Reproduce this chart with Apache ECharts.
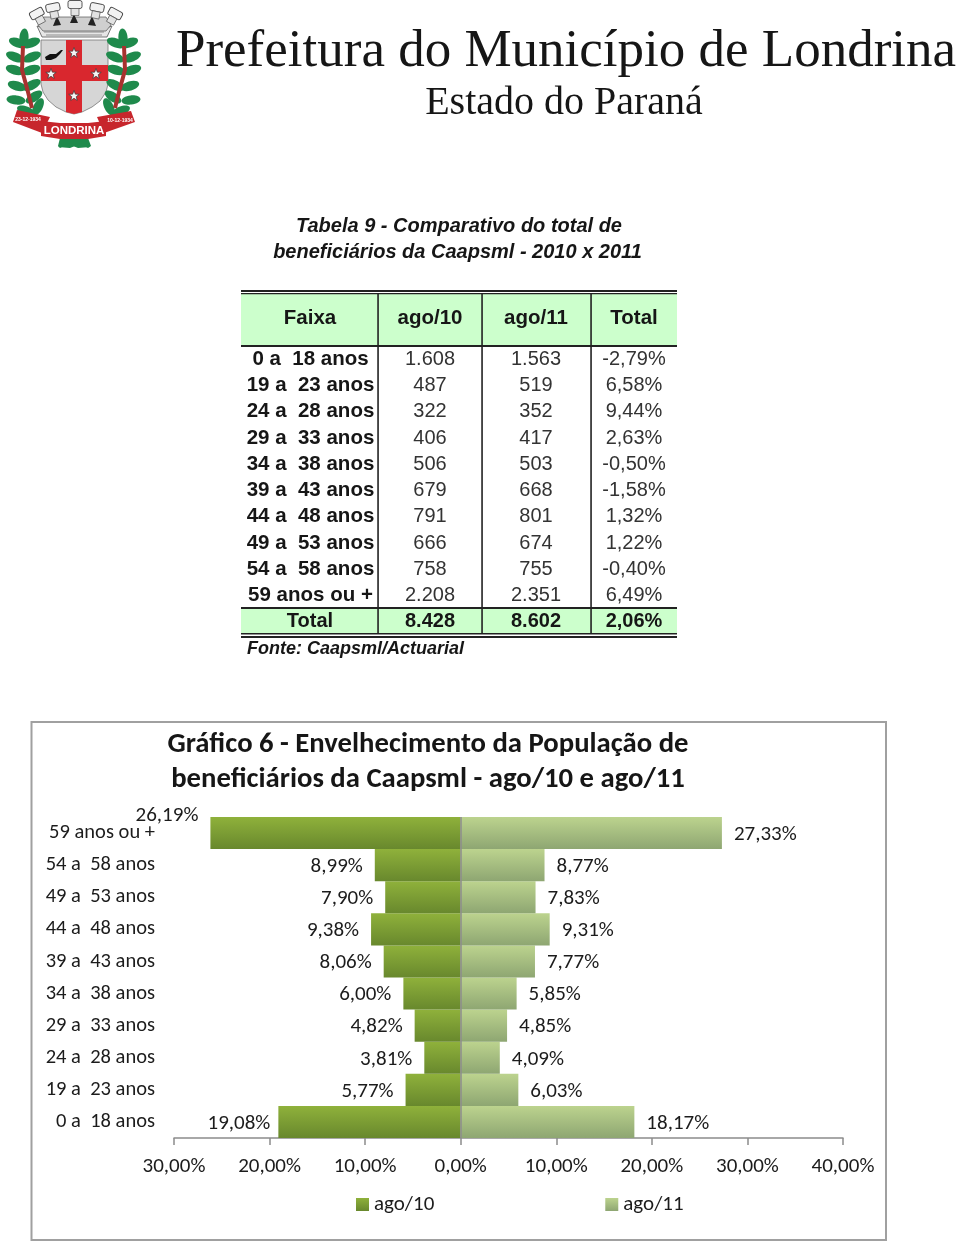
<!DOCTYPE html>
<html><head><meta charset="utf-8">
<style>html,body{margin:0;padding:0;background:#fff}#c{width:960px;height:1244px}</style>
<script src="https://cdn.jsdelivr.net/npm/echarts@6/dist/echarts.min.js"></script>
</head><body><div id="c"></div>
<script>
const categories = ['0 a  18 anos','19 a  23 anos','24 a  28 anos','29 a  33 anos','34 a  38 anos','39 a  43 anos','44 a  48 anos','49 a  53 anos','54 a  58 anos','59 anos ou +'];
const pct2010 = [19.08,5.77,3.81,4.82,6.00,8.06,9.38,7.90,8.99,26.19];
const pct2011 = [18.17,6.03,4.09,4.85,5.85,7.77,9.31,7.83,8.77,27.33];
const tableHead = ['Faixa','ago/10','ago/11','Total'];
const tableFaixa = ['0 a  18 anos','19 a  23 anos','24 a  28 anos','29 a  33 anos','34 a  38 anos','39 a  43 anos','44 a  48 anos','49 a  53 anos','54 a  58 anos','59 anos ou +'];
const tableAgo10 = ['1.608','487','322','406','506','679','791','666','758','2.208'];
const tableAgo11 = ['1.563','519','352','417','503','668','801','674','755','2.351'];
const tableTotal = ['-2,79%','6,58%','9,44%','2,63%','-0,50%','-1,58%','1,32%','1,22%','-0,40%','6,49%'];
const tableFoot = ['Total','8.428','8.602','2,06%'];
const rowCenters = [359,385,411,438,464,490,516,543,569,595];

const SANS = '"Liberation Sans",Arial,sans-serif';
const SERIF = '"Liberation Serif","Times New Roman",serif';
const CAL = 'Carlito,Calibri,Lato,sans-serif';
const fmt = v => v.toFixed(2).replace('.',',') + '%';
const g = [];
const text = (t,x,y,font,align,fill) => g.push({type:'text',x,y,z:10,silent:true,style:{text:t,x:0,y:0,font,align:align||'center',verticalAlign:'middle',fill:fill||'#161616'}});
const rect = (x,y,w,h,fill,z) => g.push({type:'rect',z:z||2,silent:true,shape:{x,y,width:w,height:h},style:{fill}});

// ---- Logo
const poly = (pts,fill,stroke,lw,z) => g.push({type:'polygon',z:z||3,silent:true,shape:{points:pts},style:{fill,stroke:stroke||null,lineWidth:lw||0}});
const leaf = (x,y,rot) => g.push({type:'ellipse',x,y,rotation:rot,z:3,silent:true,shape:{cx:0,cy:0,rx:9.5,ry:4.6},style:{fill:'#1f8a4c'}});
const star = (cx,cy,r) => {const p=[];for(let i=0;i<10;i++){const a=-Math.PI/2+i*Math.PI/5,q=i%2?r*0.42:r;p.push([cx+q*Math.cos(a),cy+q*Math.sin(a)]);}poly(p,'#f4f4f4','#333',0.7,6);};
// shield
poly([[41,40],[108,40],[108,84],[106,92],[100,101],[92,107],[82,112],[74,114],[66,112],[56,107],[48,100],[43,92],[41,84]],'#d6d6d6','#777',0.8,3);
poly([[66,40],[82,40],[82,65],[108,65],[108,81],[82,81],[82,112],[74,114],[66,112],[66,81],[41,81],[41,65],[66,65]],'#d9272e',null,0,4);
star(74,53,5.5);star(51,74,5.5);star(96,74,5.5);star(74,96,5.5);
poly([[45,57],[50,54],[56,54],[61,50],[63,50],[60,54],[56,58],[51,60],[46,60]],'#111',null,0,5);
// crown
g.push({type:'polygon',z:3,silent:true,shape:{points:[[37,26],[42,37],[107,37],[112,26],[100,30],[75,27],[50,30]]},style:{fill:'#e6e6e6',stroke:'#555',lineWidth:0.8}});
[[44,32,104,32],[46,35,102,35]].forEach(a=>g.push({type:'line',z:4,silent:true,shape:{x1:a[0],y1:a[1],x2:a[2],y2:a[3]},style:{stroke:'#777',lineWidth:0.8}}));
poly([[38,25],[43,31],[106,31],[111,25],[106,17],[44,17]],'#cfcfcf','#555',0.7,3);
poly([[53,26],[57,16],[61,25]],'#222',null,0,4);poly([[70,23],[74,14],[78,23]],'#222',null,0,4);poly([[88,25],[92,16],[96,26]],'#222',null,0,4);
[[37,14,0.5],[53,8,0.2],[75,5,0],[97,8,-0.2],[115,14,-0.5]].forEach(([x,y,r]) => {
  g.push({type:'rect',x,y,rotation:r,z:4,silent:true,shape:{x:-7,y:-4.5,width:14,height:8,r:2},style:{fill:'#f2f2f2',stroke:'#444',lineWidth:0.9}});
  g.push({type:'rect',x,y,rotation:r,z:4,silent:true,shape:{x:-4,y:3.5,width:8,height:7},style:{fill:'#e2e2e2',stroke:'#555',lineWidth:0.7}});
});
// laurel branches
const leavesL=[[24,38,1.5],[18,43,-0.35],[31,43,0.35],[15,57,-0.4],[32,57,0.4],[15,70,-0.3],[31,70,0.3],[17,86,-0.3],[32,85,0.5],[16,100,-0.1],[34,97,0.6],[38,107,1.1],[26,111,-0.4]];
leavesL.forEach(([x,y,r]) => leaf(x,y,r));
leavesL.forEach(([x,y,r]) => leaf(147-x,y,-r));
[[[23,46],[22,70],[28,92],[32,108]],[[124,46],[125,70],[119,92],[115,108]]].forEach(points=>g.push({type:'polyline',z:4,silent:true,shape:{points},style:{stroke:'#a8322f',lineWidth:4,fill:null}}));
// ribbon
poly([[60,138],[74,139],[90,147],[78,148],[68,144],[60,148],[58,146]],'#1f8a4c',null,0,3);
poly([[88,138],[74,139],[58,147],[70,148],[80,144],[88,148],[91,146]],'#1f8a4c',null,0,3);
poly([[17,110],[50,117],[42,133],[13,122]],'#c7262c',null,0,5);
poly([[131,111],[97,117],[104,133],[135,122]],'#c7262c',null,0,5);
poly([[41,121],[60,123],[88,123],[106,121],[106,136],[88,139],[60,139],[41,136]],'#c7262c',null,0,6);
text('LONDRINA',74,131,'bold 11.5px '+SANS,'center','#fff');
text('23-12-1934',28,120,'bold 5px '+SANS,'center','#fff');
text('10-12-1934',120,121,'bold 5px '+SANS,'center','#fff');

// ---- Heading
text('Prefeitura do Município de Londrina',566,52,'53px '+SERIF);
text('Estado do Paraná',564,103,'40px '+SERIF);
text('Tabela 9 - Comparativo do total de',459,226,'italic bold 20px '+SANS);
text('beneficiários da Caapsml - 2010 x 2011',457.5,252,'italic bold 20px '+SANS);

// ---- Table
const L=241,R=677,cols=[378,482,591],centres=[310,430,536,634];
rect(L,294,R-L,51,'#ccffcc');
rect(L,608,R-L,26,'#ccffcc');
const lineC='#222';
rect(L,290,R-L,2,lineC,5);rect(L,293,R-L,1.2,lineC,5);
rect(L,345,R-L,2,lineC,5);rect(L,607,R-L,2,lineC,5);
rect(L,633,R-L,1.5,lineC,5);rect(L,636,R-L,2,lineC,5);
cols.forEach(x=>rect(x-0.75,293,1.6,341,lineC,5));
tableHead.forEach((t,i)=>text(t,centres[i],318,'bold 20.5px '+SANS));
tableFaixa.forEach((t,i)=>{
  const y=rowCenters[i];
  text(t,centres[0]+0.5,y,'bold 20.5px '+SANS);
  text(tableAgo10[i],centres[1],y,'20px '+SANS,'center','#333');
  text(tableAgo11[i],centres[2],y,'20px '+SANS,'center','#333');
  text(tableTotal[i],centres[3],y,'20px '+SANS,'center','#333');
});
tableFoot.forEach((t,i)=>text(t,centres[i],621,'bold 20px '+SANS));
text('Fonte: Caapsml/Actuarial',247,649,'italic bold 18px '+SANS,'left');

// ---- Chart frame and title
g.push({type:'rect',z:1,silent:true,shape:{x:31.5,y:722,width:854.5,height:518},style:{fill:null,stroke:'#a0a0a0',lineWidth:2}});
text('Gráfico 6 - Envelhecimento da População de',428,745,'bold 28.7px '+CAL);
text('beneficiários da Caapsml - ago/10 e ago/11',428,780,'bold 28.7px '+CAL);

const grad=(a,b)=>new echarts.graphic.LinearGradient(0,0,0,1,[{offset:0,color:a},{offset:1,color:b}]);
const labelOf=(values,pos)=>values.map((v,i)=>({
  value: pos==='left' ? -v : v,
  label: (pos==='left' && i===values.length-1) ? {offset:[0,-17]}
       : (pos==='left' && i===0) ? {offset:[4,1.5]} : {offset:[0,1.5]}
}));
const labelBase=(pos,values)=>({show:true,position:pos,distance:12,color:'#1c1c1c',fontFamily:CAL,fontSize:21,
  formatter:p=>fmt(values[p.dataIndex])});

const chart=echarts.init(document.getElementById('c'),null,{renderer:'canvas',width:960,height:1244});
chart.setOption({
  animation:false,
  backgroundColor:'#fff',
  graphic:{elements:g},
  grid:{left:174,top:817,width:669,height:321,containLabel:false},
  legend:{left:351,top:1189,itemWidth:13,itemHeight:13,itemGap:171,icon:'rect',
    textStyle:{fontFamily:CAL,fontSize:21,color:'#1c1c1c'},data:['ago/10','ago/11'],selectedMode:false},
  xAxis:{type:'value',min:-30,max:40,interval:10,splitLine:{show:false},
    axisLine:{show:true,lineStyle:{color:'#8c8c8c',width:1.5}},
    axisTick:{show:true,length:7,lineStyle:{color:'#8c8c8c',width:1.5}},
    axisLabel:{margin:18,color:'#1c1c1c',fontFamily:CAL,fontSize:21,formatter:v=>fmt(Math.abs(v)),showMinLabel:true,showMaxLabel:true,hideOverlap:false}},
  yAxis:{type:'category',data:categories,axisLine:{show:false},axisTick:{show:false},
    axisLabel:{interval:0,margin:19,padding:[2,0,0,0],color:'#1c1c1c',fontFamily:CAL,fontSize:20.5}},
  series:[
    {name:'ago/10',type:'bar',barGap:'-100%',barCategoryGap:'0%',z:3,
     itemStyle:{color:grad('#8fb13b','#68882d')},
     data:labelOf(pct2010,'left'),label:labelBase('left',pct2010),
     markLine:{silent:true,symbol:'none',label:{show:false},lineStyle:{color:'#8c8c8c',width:1.5,type:'solid'},data:[{xAxis:0}],z:5}},
    {name:'ago/11',type:'bar',z:3,
     itemStyle:{color:grad('#bcd38e','#8ea672')},
     data:labelOf(pct2011,'right'),label:labelBase('right',pct2011)}
  ]
});
</script></body></html>
